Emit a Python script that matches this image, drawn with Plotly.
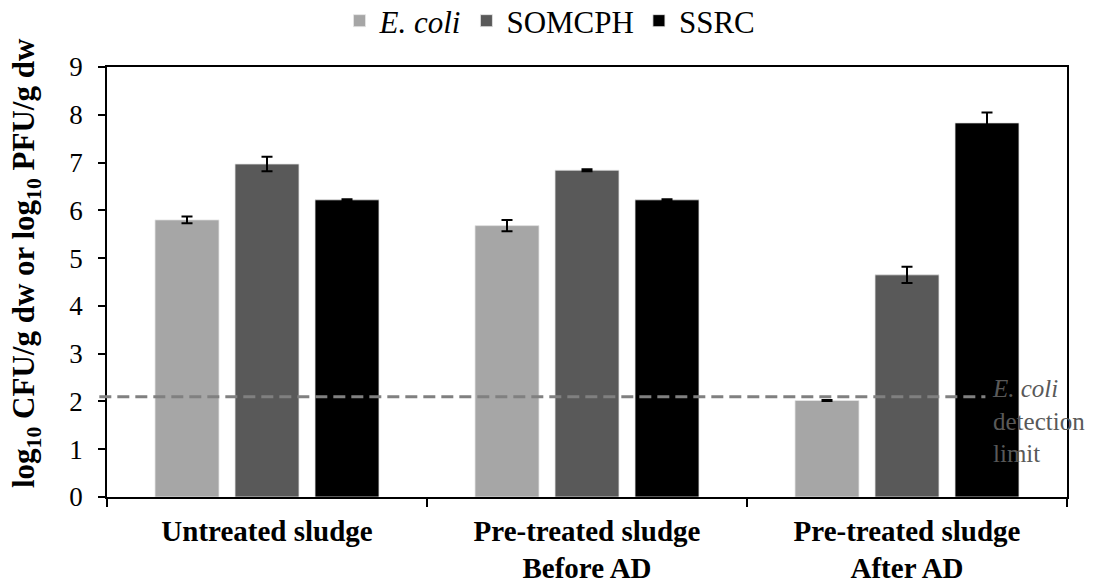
import plotly.graph_objects as go

# Sample groups along the x axis
categories = ["Untreated sludge", "Pre-treated sludge<br>Before AD", "Pre-treated sludge<br>After AD"]

# Mean log10 counts per group
ecoli = [5.80, 5.68, 2.02]
somcph = [6.97, 6.84, 4.65]
ssrc = [6.22, 6.22, 7.83]

# Standard deviations
ecoli_err = [0.07, 0.12, 0.01]
somcph_err = [0.15, 0.02, 0.17]
ssrc_err = [0.01, 0.01, 0.22]

detection_limit = 2.1
y_ticks = [0, 1, 2, 3, 4, 5, 6, 7, 8, 9]

FONT = "Liberation Serif"
W, H = 1098, 585
ML, MR, MT, MB = 107, 31, 67, 88
PW, PH = W - ML - MR, H - MT - MB

fig = go.Figure()
series = [
    ("<i>E. coli</i>", ecoli, ecoli_err, "#a6a6a6"),
    ("SOMCPH", somcph, somcph_err, "#595959"),
    ("SSRC", ssrc, ssrc_err, "#000000"),
]
for name, vals, errs, color in series:
    fig.add_trace(go.Bar(
        x=categories, y=vals, name=name,
        marker=dict(color=color, line=dict(color="#e6e6e6", width=0.8)),
        error_y=dict(type="data", array=errs, visible=True,
                     color="black", thickness=2, width=5.5),
    ))

# Detection limit for E. coli
fig.add_shape(type="line", xref="paper", yref="y",
              x0=-0.008, x1=0.915, y0=detection_limit, y1=detection_limit,
              line=dict(color="#808080", width=3, dash="12px,6px"))
fig.add_annotation(xref="paper", yref="y", x=0.92, y=detection_limit,
                   xanchor="left", yanchor="top", align="left",
                   text="<i>E. coli</i><br>detection<br>limit", showarrow=False,
                   font=dict(family=FONT, size=25, color="#595959"),
                   yshift=24)

# Rotated y-axis title
fig.add_annotation(xref="paper", yref="paper",
                   x=(26 - ML) / PW, y=(H - MB - 263) / PH,
                   xanchor="center", yanchor="middle", textangle=-90, showarrow=False,
                   text="<b>log<sub>10</sub> CFU/g dw or log<sub>10</sub> PFU/g dw</b>",
                   font=dict(family=FONT, size=31, color="black"))

fig.update_layout(
    width=W, height=H,
    margin=dict(l=ML, r=MR, t=MT, b=MB, autoexpand=False),
    paper_bgcolor="white", plot_bgcolor="white",
    barmode="group", bargap=0.25, bargroupgap=0.2,
    font=dict(family=FONT, size=27, color="black"),
    legend=dict(orientation="h", xref="paper", yref="paper",
                x=(550 - ML) / PW, xanchor="center",
                y=(H - MB - 21) / PH, yanchor="middle",
                font=dict(family=FONT, size=31, color="black"),
                itemwidth=30, traceorder="normal"),
    xaxis=dict(showline=True, linecolor="black", linewidth=1.5, mirror=True,
               ticks="outside", tickson="boundaries", ticklen=8, tickcolor="black",
               tickwidth=1.5, automargin=False, ticklabelstandoff=7,
               tickfont=dict(family=FONT, size=29, color="black", weight="bold"),
               showgrid=False),
    yaxis=dict(range=[0, 9], tickvals=y_ticks, showline=True, linecolor="black",
               linewidth=1.5, mirror=True, ticks="outside", ticklen=7,
               tickcolor="black", tickwidth=1.5, showgrid=False, zeroline=False,
               ticklabelstandoff=10, automargin=False,
               tickfont=dict(family=FONT, size=27, color="black")),
)

fig.write_html("out.html")
